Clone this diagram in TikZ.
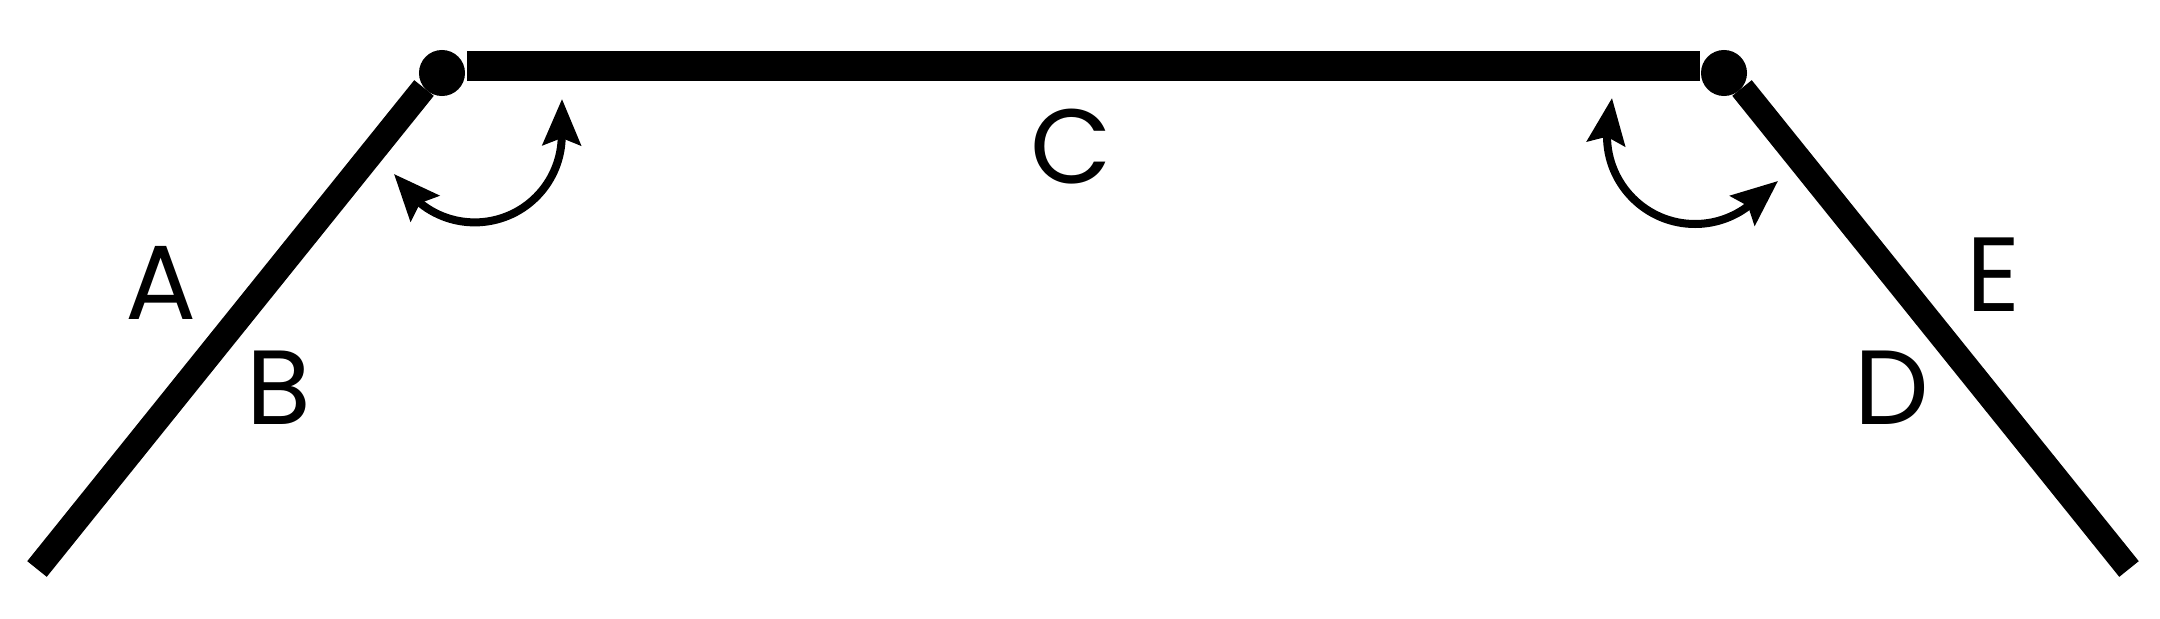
\documentclass[tikz,border=0pt]{standalone}
\usepackage{fontspec}
\setmainfont{Poppins}
\usetikzlibrary{arrows.meta}
\begin{document}
\begin{tikzpicture}[x=0.01cm,y=-0.01cm,
  member/.style={line width=0.25cm,line cap=butt},
  beam/.style={line width=0.30cm,line cap=butt},
  joint/.style={circle,fill=black,inner sep=0pt,minimum size=0.46cm},
  tipx/.tip={Stealth[length=0.46cm,width=0.38cm,inset=0.07cm]},
  swing/.style={line width=0.08cm,tipx-tipx},
  lbl/.style={font=\fontsize{30}{36}\selectfont,inner sep=0pt}]
\useasboundingbox (0,0) rectangle (2160,618);
% joints
\node[joint] (j1) at (442,73) {};
\node[joint] (j2) at (1724,73) {};
% member ends
\coordinate (lfoot) at (37,569);
\coordinate (ltop) at (424,88);
\coordinate (rtop) at (1742,88);
\coordinate (rfoot) at (2129,569);
\coordinate (bl) at (467,66);
\coordinate (br) at (1700,66);
\draw[member] (lfoot) -- (ltop);
\draw[member] (rtop) -- (rfoot);
\draw[beam] (bl) -- (br);
% swing arrows
\coordinate (la) at (394,174);
\coordinate (lb) at (562,99);
\coordinate (ra) at (1612,98);
\coordinate (rb) at (1778,181);
\draw[swing] (la) -- (420,203) arc[start angle=129,end angle=0,radius=87] -- (lb);
\draw[swing] (ra) -- (1607,136) arc[start angle=180,end angle=55,radius=88] -- (rb);
% labels
\node[lbl] (A) at (161,283) {A};
\node[lbl] (B) at (279,388) {B};
\node[lbl] (C) at (1071,147) {C};
\node[lbl] (D) at (1892,388) {D};
\node[lbl] (E) at (1994,275) {E};
\end{tikzpicture}
\end{document}
